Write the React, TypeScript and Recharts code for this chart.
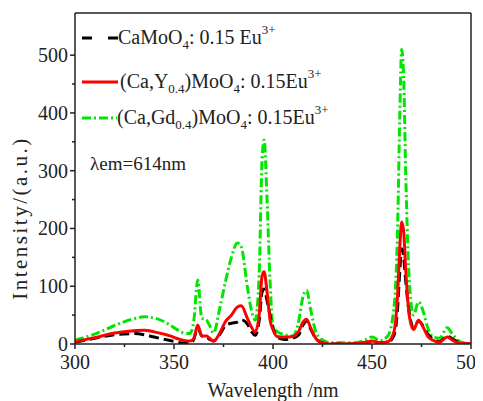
import React from "react";
import { LineChart, Line, XAxis, YAxis, ReferenceLine } from "recharts";

const wavelengths = [300, 310, 320, 330, 335, 340, 348, 352, 355, 358, 360, 362, 364, 366.5, 368, 370, 373, 376, 379, 382, 384, 387, 389, 391, 393, 394.5, 395.5, 397, 398.5, 400, 402, 406, 410, 413, 415, 417, 419, 422, 426, 430, 440, 446, 450, 454, 458, 461, 463, 464, 465, 466, 467, 469, 471, 473.5, 476, 478, 481, 484, 488, 491, 495, 500];

const caMoO4 = [3, 10, 16, 18, 16, 12, 6, 3, 1, 1, 8, 28, 14, 12, 8, 5, 16, 32, 36, 38, 42, 35, 22, 15, 40, 90, 95, 75, 50, 28, 12, 8, 10, 16, 32, 40, 26, 8, 1, 0, 0, 2, 4, 2, 3, 14, 65, 125, 165, 150, 110, 50, 28, 40, 30, 18, 8, 4, 14, 8, 2, 0];

const caY = [4, 11, 19, 23, 24, 21, 14, 9, 6, 5, 10, 33, 14, 14, 10, 5, 18, 39, 50, 64, 66, 45, 30, 21, 50, 118, 125, 90, 42, 25, 13, 12, 13, 22, 37, 43, 28, 8, 1, 0, 0, 2, 5, 2, 4, 20, 90, 165, 211, 195, 130, 45, 25, 41, 28, 14, 6, 3, 12, 6, 1, 0];

const caGd = [7, 17, 32, 44, 47, 45, 33, 24, 19, 18, 40, 111, 45, 41, 32, 19, 60, 108, 150, 175, 168, 100, 60, 41, 120, 320, 353, 250, 110, 30, 22, 16, 14, 40, 80, 93, 60, 18, 5, 2, 2, 6, 12, 6, 14, 60, 210, 390, 510, 460, 300, 100, 50, 73, 55, 30, 12, 10, 28, 15, 3, 0];

const seriesNames = ["CaMoO4", "(Ca,Y0.4)MoO4", "(Ca,Gd0.4)MoO4"];
const xTicks = [300, 325, 350, 375, 400, 425, 450, 475, 500];
const yTicks = [0, 50, 100, 150, 200, 250, 300, 350, 400, 450, 500];
const yMax = 573;

const data = wavelengths.map((w, i) => ({
  w,
  ca: caMoO4[i],
  y: caY[i],
  gd: caGd[i],
}));

const FONT = '"Liberation Serif", "Times New Roman", Times, serif';
const AXIS_COLOR = "#222";
const GREEN = "#00e600";
const txt = (size: number): React.CSSProperties => ({ fontFamily: FONT, fontSize: size });

const XTick = (props: any) => {
  const { x, y, payload } = props;
  const major = payload.value % 50 === 0;
  return (
    <g>
      <line x1={x} x2={x} y1={y} y2={y + (major ? 5 : 3)} stroke={AXIS_COLOR} strokeWidth={1.5} />
      {major && (
        <text x={x} y={y + 25} textAnchor="middle" style={txt(20)} fill="#222">
          {payload.value}
        </text>
      )}
    </g>
  );
};

const YTick = (props: any) => {
  const { x, y, payload } = props;
  const major = payload.value % 100 === 0;
  return (
    <g>
      <line x1={x - (major ? 5 : 3)} x2={x} y1={y} y2={y} stroke={AXIS_COLOR} strokeWidth={1.5} />
      {major && (
        <text x={x - 7} y={y} dy="0.35em" textAnchor="end" style={txt(20)} fill="#222">
          {payload.value}
        </text>
      )}
    </g>
  );
};

const XLabel = (props: any) => {
  const { viewBox } = props;
  const cx = viewBox.x + viewBox.width / 2;
  return (
    <text x={cx} y={389} textAnchor="middle" style={txt(20)} fill="#222">
      Wavelength /nm
    </text>
  );
};

const YLabel = () => (
  <text
    x={0}
    y={0}
    transform="translate(19, 210) rotate(-90)"
    textAnchor="middle"
    style={{ ...txt(21), letterSpacing: 2.5 }}
    fill="#222"
  >
    Intensity/(a.u.)
  </text>
);

const LegendOverlay = () => (
  <svg
    width={475}
    height={393}
    style={{ position: "absolute", left: 0, top: 0, pointerEvents: "none", fontFamily: FONT }}
    fill="#222"
  >
    <line x1={74} x2={110} y1={30} y2={30} stroke="#000" strokeWidth={3} strokeDasharray="10 16" />
    <text x={110} y={36} style={txt(20)}>
      <tspan>CaMoO</tspan>
      <tspan dy={5} style={txt(13)}>4</tspan>
      <tspan dy={-5}>: 0.15 Eu</tspan>
      <tspan dy={-10} style={txt(13)}>3+</tspan>
    </text>

    <line x1={74} x2={110} y1={74} y2={74} stroke="#ff0000" strokeWidth={3} />
    <text x={112} y={80} style={txt(20)}>
      <tspan>(Ca,Y</tspan>
      <tspan dy={5} style={txt(13)}>0.4</tspan>
      <tspan dy={-5}>)MoO</tspan>
      <tspan dy={5} style={txt(13)}>4</tspan>
      <tspan dy={-5}>: 0.15Eu</tspan>
      <tspan dy={-10} style={txt(13)}>3+</tspan>
    </text>

    <line x1={74} x2={109} y1={110} y2={110} stroke={GREEN} strokeWidth={3} strokeDasharray="9 3 2 3" />
    <text x={109} y={116} style={txt(20)}>
      <tspan>(Ca,Gd</tspan>
      <tspan dy={5} style={txt(13)}>0.4</tspan>
      <tspan dy={-5}>)MoO</tspan>
      <tspan dy={5} style={txt(13)}>4</tspan>
      <tspan dy={-5}>: 0.15Eu</tspan>
      <tspan dy={-10} style={txt(13)}>3+</tspan>
    </text>

    <text x={82} y={162} style={txt(19)}>λem=614nm</text>
  </svg>
);

export default function App() {
  return (
    <div style={{ position: "relative", width: 475, height: 393, background: "#fff" }}>
      <LineChart
        width={475}
        height={393}
        data={data}
        margin={{ top: 5, right: 12, left: 0, bottom: 0 }}
      >
        <XAxis
          dataKey="w"
          type="number"
          domain={[300, 500]}
          ticks={xTicks}
          interval={0}
          tickLine={false}
          tickSize={0}
          tickMargin={0}
          tick={<XTick />}
          height={57}
          axisLine={{ stroke: AXIS_COLOR, strokeWidth: 1.5 }}
          allowDataOverflow
          label={<XLabel />}
        />
        <YAxis
          type="number"
          domain={[0, yMax]}
          ticks={yTicks}
          interval={0}
          tickLine={false}
          tickSize={0}
          tickMargin={0}
          tick={<YTick />}
          width={67}
          axisLine={{ stroke: AXIS_COLOR, strokeWidth: 1.5 }}
          allowDataOverflow
          label={<YLabel />}
        />
        <ReferenceLine y={yMax} stroke={AXIS_COLOR} strokeWidth={1.5} ifOverflow="visible" />
        <ReferenceLine x={500} stroke={AXIS_COLOR} strokeWidth={1.5} ifOverflow="visible" />
        <Line
          name={seriesNames[2]}
          dataKey="gd"
          type="monotone"
          stroke={GREEN}
          strokeWidth={3}
          strokeDasharray="9 3 2 3"
          dot={false}
          isAnimationActive={false}
        />
        <Line
          name={seriesNames[0]}
          dataKey="ca"
          type="monotone"
          stroke="#000"
          strokeWidth={3}
          strokeDasharray="10 5"
          dot={false}
          isAnimationActive={false}
        />
        <Line
          name={seriesNames[1]}
          dataKey="y"
          type="monotone"
          stroke="#ff0000"
          strokeWidth={3}
          dot={false}
          isAnimationActive={false}
        />
      </LineChart>
      <LegendOverlay />
    </div>
  );
}
